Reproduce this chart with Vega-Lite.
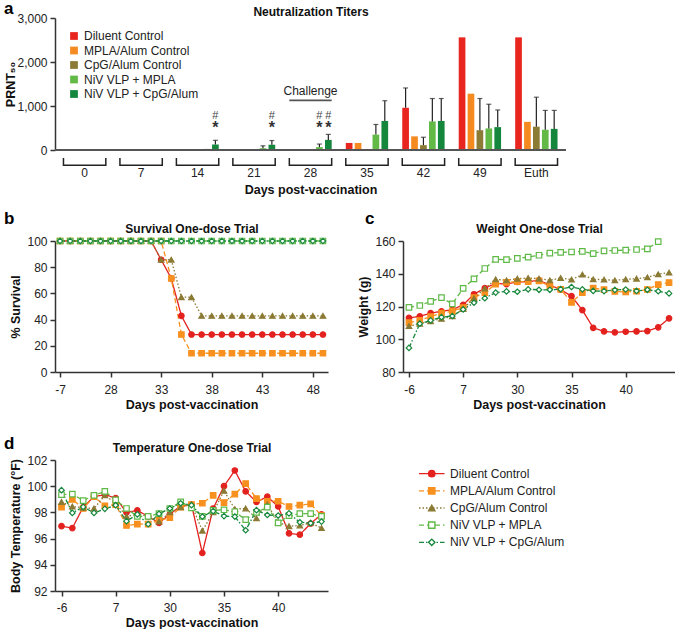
{
  "$schema": "https://vega.github.io/schema/vega-lite/v6.json",
  "padding": {"left": 3, "top": 0, "right": 0, "bottom": 0},
  "config": {
    "font": "Liberation Sans",
    "view": {"stroke": null},
    "axis": {"grid": false, "domainColor": "#333", "domainWidth": 1.5, "tickColor": "#333", "tickWidth": 1.5, "tickSize": 5, "labelFontSize": 12, "labelColor": "#222", "titleFontSize": 12.5, "titleFontWeight": "bold", "titleColor": "#111", "labelPadding": 3, "labelOverlap": false},
    "title": {"color": "#000"}
  },
  "datasets": {
    "titers": [
      {"day": "0", "series": "Diluent Control", "value": 0},
      {"day": "0", "series": "MPLA/Alum Control", "value": 0},
      {"day": "0", "series": "CpG/Alum Control", "value": 0},
      {"day": "0", "series": "NiV VLP + MPLA", "value": 0},
      {"day": "0", "series": "NiV VLP + CpG/Alum", "value": 0},
      {"day": "7", "series": "Diluent Control", "value": 0},
      {"day": "7", "series": "MPLA/Alum Control", "value": 0},
      {"day": "7", "series": "CpG/Alum Control", "value": 0},
      {"day": "7", "series": "NiV VLP + MPLA", "value": 0},
      {"day": "7", "series": "NiV VLP + CpG/Alum", "value": 8},
      {"day": "14", "series": "Diluent Control", "value": 0},
      {"day": "14", "series": "MPLA/Alum Control", "value": 0},
      {"day": "14", "series": "CpG/Alum Control", "value": 0},
      {"day": "14", "series": "NiV VLP + MPLA", "value": 25},
      {"day": "14", "series": "NiV VLP + CpG/Alum", "value": 125, "upper": 220, "sig": true},
      {"day": "21", "series": "Diluent Control", "value": 0},
      {"day": "21", "series": "MPLA/Alum Control", "value": 0},
      {"day": "21", "series": "CpG/Alum Control", "value": 0},
      {"day": "21", "series": "NiV VLP + MPLA", "value": 40, "upper": 95},
      {"day": "21", "series": "NiV VLP + CpG/Alum", "value": 120, "upper": 215, "sig": true},
      {"day": "28", "series": "Diluent Control", "value": 0},
      {"day": "28", "series": "MPLA/Alum Control", "value": 0},
      {"day": "28", "series": "CpG/Alum Control", "value": 0},
      {"day": "28", "series": "NiV VLP + MPLA", "value": 65, "upper": 135, "sig": true},
      {"day": "28", "series": "NiV VLP + CpG/Alum", "value": 230, "upper": 355, "sig": true},
      {"day": "35", "series": "Diluent Control", "value": 160},
      {"day": "35", "series": "MPLA/Alum Control", "value": 160},
      {"day": "35", "series": "CpG/Alum Control", "value": 20},
      {"day": "35", "series": "NiV VLP + MPLA", "value": 350, "upper": 580},
      {"day": "35", "series": "NiV VLP + CpG/Alum", "value": 660, "upper": 1120},
      {"day": "42", "series": "Diluent Control", "value": 960, "upper": 1410},
      {"day": "42", "series": "MPLA/Alum Control", "value": 310},
      {"day": "42", "series": "CpG/Alum Control", "value": 110, "upper": 290},
      {"day": "42", "series": "NiV VLP + MPLA", "value": 650, "upper": 1170},
      {"day": "42", "series": "NiV VLP + CpG/Alum", "value": 660, "upper": 1170},
      {"day": "49", "series": "Diluent Control", "value": 2560},
      {"day": "49", "series": "MPLA/Alum Control", "value": 1280},
      {"day": "49", "series": "CpG/Alum Control", "value": 450, "upper": 1170},
      {"day": "49", "series": "NiV VLP + MPLA", "value": 490, "upper": 1040},
      {"day": "49", "series": "NiV VLP + CpG/Alum", "value": 520, "upper": 910},
      {"day": "Euth", "series": "Diluent Control", "value": 2560},
      {"day": "Euth", "series": "MPLA/Alum Control", "value": 640},
      {"day": "Euth", "series": "CpG/Alum Control", "value": 530, "upper": 1200},
      {"day": "Euth", "series": "NiV VLP + MPLA", "value": 460, "upper": 900},
      {"day": "Euth", "series": "NiV VLP + CpG/Alum", "value": 480, "upper": 900}
    ],
    "days": [
      {"day": "0"}, {"day": "7"}, {"day": "14"}, {"day": "21"}, {"day": "28"}, {"day": "35"}, {"day": "42"}, {"day": "49"}, {"day": "Euth"}
    ],
    "notes": [
      {"day": "28", "label": "Challenge"}
    ],
    "survival": [
      {"series": "Diluent Control", "day": "-7", "value": 100},
      {"series": "Diluent Control", "day": "0", "value": 100},
      {"series": "Diluent Control", "day": "7", "value": 100},
      {"series": "Diluent Control", "day": "14", "value": 100},
      {"series": "Diluent Control", "day": "21", "value": 100},
      {"series": "Diluent Control", "day": "28", "value": 100},
      {"series": "Diluent Control", "day": "29", "value": 100},
      {"series": "Diluent Control", "day": "30", "value": 100},
      {"series": "Diluent Control", "day": "31", "value": 100},
      {"series": "Diluent Control", "day": "32", "value": 100},
      {"series": "Diluent Control", "day": "33", "value": 85.7},
      {"series": "Diluent Control", "day": "34", "value": 71.4},
      {"series": "Diluent Control", "day": "35", "value": 42.9},
      {"series": "Diluent Control", "day": "36", "value": 28.6},
      {"series": "Diluent Control", "day": "37", "value": 28.6},
      {"series": "Diluent Control", "day": "38", "value": 28.6},
      {"series": "Diluent Control", "day": "39", "value": 28.6},
      {"series": "Diluent Control", "day": "40", "value": 28.6},
      {"series": "Diluent Control", "day": "41", "value": 28.6},
      {"series": "Diluent Control", "day": "42", "value": 28.6},
      {"series": "Diluent Control", "day": "43", "value": 28.6},
      {"series": "Diluent Control", "day": "44", "value": 28.6},
      {"series": "Diluent Control", "day": "45", "value": 28.6},
      {"series": "Diluent Control", "day": "46", "value": 28.6},
      {"series": "Diluent Control", "day": "47", "value": 28.6},
      {"series": "Diluent Control", "day": "48", "value": 28.6},
      {"series": "Diluent Control", "day": "49", "value": 28.6},
      {"series": "MPLA/Alum Control", "day": "-7", "value": 100},
      {"series": "MPLA/Alum Control", "day": "0", "value": 100},
      {"series": "MPLA/Alum Control", "day": "7", "value": 100},
      {"series": "MPLA/Alum Control", "day": "14", "value": 100},
      {"series": "MPLA/Alum Control", "day": "21", "value": 100},
      {"series": "MPLA/Alum Control", "day": "28", "value": 100},
      {"series": "MPLA/Alum Control", "day": "29", "value": 100},
      {"series": "MPLA/Alum Control", "day": "30", "value": 100},
      {"series": "MPLA/Alum Control", "day": "31", "value": 100},
      {"series": "MPLA/Alum Control", "day": "32", "value": 100},
      {"series": "MPLA/Alum Control", "day": "33", "value": 100},
      {"series": "MPLA/Alum Control", "day": "34", "value": 71.4},
      {"series": "MPLA/Alum Control", "day": "35", "value": 28.6},
      {"series": "MPLA/Alum Control", "day": "36", "value": 14.3},
      {"series": "MPLA/Alum Control", "day": "37", "value": 14.3},
      {"series": "MPLA/Alum Control", "day": "38", "value": 14.3},
      {"series": "MPLA/Alum Control", "day": "39", "value": 14.3},
      {"series": "MPLA/Alum Control", "day": "40", "value": 14.3},
      {"series": "MPLA/Alum Control", "day": "41", "value": 14.3},
      {"series": "MPLA/Alum Control", "day": "42", "value": 14.3},
      {"series": "MPLA/Alum Control", "day": "43", "value": 14.3},
      {"series": "MPLA/Alum Control", "day": "44", "value": 14.3},
      {"series": "MPLA/Alum Control", "day": "45", "value": 14.3},
      {"series": "MPLA/Alum Control", "day": "46", "value": 14.3},
      {"series": "MPLA/Alum Control", "day": "47", "value": 14.3},
      {"series": "MPLA/Alum Control", "day": "48", "value": 14.3},
      {"series": "MPLA/Alum Control", "day": "49", "value": 14.3},
      {"series": "CpG/Alum Control", "day": "-7", "value": 100},
      {"series": "CpG/Alum Control", "day": "0", "value": 100},
      {"series": "CpG/Alum Control", "day": "7", "value": 100},
      {"series": "CpG/Alum Control", "day": "14", "value": 100},
      {"series": "CpG/Alum Control", "day": "21", "value": 100},
      {"series": "CpG/Alum Control", "day": "28", "value": 100},
      {"series": "CpG/Alum Control", "day": "29", "value": 100},
      {"series": "CpG/Alum Control", "day": "30", "value": 100},
      {"series": "CpG/Alum Control", "day": "31", "value": 100},
      {"series": "CpG/Alum Control", "day": "32", "value": 100},
      {"series": "CpG/Alum Control", "day": "33", "value": 85.7},
      {"series": "CpG/Alum Control", "day": "34", "value": 85.7},
      {"series": "CpG/Alum Control", "day": "35", "value": 57.1},
      {"series": "CpG/Alum Control", "day": "36", "value": 57.1},
      {"series": "CpG/Alum Control", "day": "37", "value": 42.9},
      {"series": "CpG/Alum Control", "day": "38", "value": 42.9},
      {"series": "CpG/Alum Control", "day": "39", "value": 42.9},
      {"series": "CpG/Alum Control", "day": "40", "value": 42.9},
      {"series": "CpG/Alum Control", "day": "41", "value": 42.9},
      {"series": "CpG/Alum Control", "day": "42", "value": 42.9},
      {"series": "CpG/Alum Control", "day": "43", "value": 42.9},
      {"series": "CpG/Alum Control", "day": "44", "value": 42.9},
      {"series": "CpG/Alum Control", "day": "45", "value": 42.9},
      {"series": "CpG/Alum Control", "day": "46", "value": 42.9},
      {"series": "CpG/Alum Control", "day": "47", "value": 42.9},
      {"series": "CpG/Alum Control", "day": "48", "value": 42.9},
      {"series": "CpG/Alum Control", "day": "49", "value": 42.9},
      {"series": "NiV VLP + MPLA", "day": "-7", "value": 100},
      {"series": "NiV VLP + MPLA", "day": "0", "value": 100},
      {"series": "NiV VLP + MPLA", "day": "7", "value": 100},
      {"series": "NiV VLP + MPLA", "day": "14", "value": 100},
      {"series": "NiV VLP + MPLA", "day": "21", "value": 100},
      {"series": "NiV VLP + MPLA", "day": "28", "value": 100},
      {"series": "NiV VLP + MPLA", "day": "29", "value": 100},
      {"series": "NiV VLP + MPLA", "day": "30", "value": 100},
      {"series": "NiV VLP + MPLA", "day": "31", "value": 100},
      {"series": "NiV VLP + MPLA", "day": "32", "value": 100},
      {"series": "NiV VLP + MPLA", "day": "33", "value": 100},
      {"series": "NiV VLP + MPLA", "day": "34", "value": 100},
      {"series": "NiV VLP + MPLA", "day": "35", "value": 100},
      {"series": "NiV VLP + MPLA", "day": "36", "value": 100},
      {"series": "NiV VLP + MPLA", "day": "37", "value": 100},
      {"series": "NiV VLP + MPLA", "day": "38", "value": 100},
      {"series": "NiV VLP + MPLA", "day": "39", "value": 100},
      {"series": "NiV VLP + MPLA", "day": "40", "value": 100},
      {"series": "NiV VLP + MPLA", "day": "41", "value": 100},
      {"series": "NiV VLP + MPLA", "day": "42", "value": 100},
      {"series": "NiV VLP + MPLA", "day": "43", "value": 100},
      {"series": "NiV VLP + MPLA", "day": "44", "value": 100},
      {"series": "NiV VLP + MPLA", "day": "45", "value": 100},
      {"series": "NiV VLP + MPLA", "day": "46", "value": 100},
      {"series": "NiV VLP + MPLA", "day": "47", "value": 100},
      {"series": "NiV VLP + MPLA", "day": "48", "value": 100},
      {"series": "NiV VLP + MPLA", "day": "49", "value": 100},
      {"series": "NiV VLP + CpG/Alum", "day": "-7", "value": 100},
      {"series": "NiV VLP + CpG/Alum", "day": "0", "value": 100},
      {"series": "NiV VLP + CpG/Alum", "day": "7", "value": 100},
      {"series": "NiV VLP + CpG/Alum", "day": "14", "value": 100},
      {"series": "NiV VLP + CpG/Alum", "day": "21", "value": 100},
      {"series": "NiV VLP + CpG/Alum", "day": "28", "value": 100},
      {"series": "NiV VLP + CpG/Alum", "day": "29", "value": 100},
      {"series": "NiV VLP + CpG/Alum", "day": "30", "value": 100},
      {"series": "NiV VLP + CpG/Alum", "day": "31", "value": 100},
      {"series": "NiV VLP + CpG/Alum", "day": "32", "value": 100},
      {"series": "NiV VLP + CpG/Alum", "day": "33", "value": 100},
      {"series": "NiV VLP + CpG/Alum", "day": "34", "value": 100},
      {"series": "NiV VLP + CpG/Alum", "day": "35", "value": 100},
      {"series": "NiV VLP + CpG/Alum", "day": "36", "value": 100},
      {"series": "NiV VLP + CpG/Alum", "day": "37", "value": 100},
      {"series": "NiV VLP + CpG/Alum", "day": "38", "value": 100},
      {"series": "NiV VLP + CpG/Alum", "day": "39", "value": 100},
      {"series": "NiV VLP + CpG/Alum", "day": "40", "value": 100},
      {"series": "NiV VLP + CpG/Alum", "day": "41", "value": 100},
      {"series": "NiV VLP + CpG/Alum", "day": "42", "value": 100},
      {"series": "NiV VLP + CpG/Alum", "day": "43", "value": 100},
      {"series": "NiV VLP + CpG/Alum", "day": "44", "value": 100},
      {"series": "NiV VLP + CpG/Alum", "day": "45", "value": 100},
      {"series": "NiV VLP + CpG/Alum", "day": "46", "value": 100},
      {"series": "NiV VLP + CpG/Alum", "day": "47", "value": 100},
      {"series": "NiV VLP + CpG/Alum", "day": "48", "value": 100},
      {"series": "NiV VLP + CpG/Alum", "day": "49", "value": 100}
    ],
    "weight": [
      {"series": "Diluent Control", "day": "-6", "value": 113},
      {"series": "Diluent Control", "day": "-4", "value": 114},
      {"series": "Diluent Control", "day": "-2", "value": 115.9},
      {"series": "Diluent Control", "day": "0", "value": 117.1},
      {"series": "Diluent Control", "day": "3", "value": 118},
      {"series": "Diluent Control", "day": "7", "value": 121},
      {"series": "Diluent Control", "day": "10", "value": 127.5},
      {"series": "Diluent Control", "day": "14", "value": 131.2},
      {"series": "Diluent Control", "day": "21", "value": 134.1},
      {"series": "Diluent Control", "day": "28", "value": 133.7},
      {"series": "Diluent Control", "day": "30", "value": 135},
      {"series": "Diluent Control", "day": "31", "value": 135.2},
      {"series": "Diluent Control", "day": "32", "value": 136},
      {"series": "Diluent Control", "day": "33", "value": 133.1},
      {"series": "Diluent Control", "day": "34", "value": 130.3},
      {"series": "Diluent Control", "day": "35", "value": 126.3},
      {"series": "Diluent Control", "day": "36", "value": 117.8},
      {"series": "Diluent Control", "day": "37", "value": 107},
      {"series": "Diluent Control", "day": "38", "value": 104.8},
      {"series": "Diluent Control", "day": "39", "value": 104.2},
      {"series": "Diluent Control", "day": "40", "value": 104.6},
      {"series": "Diluent Control", "day": "41", "value": 104.8},
      {"series": "Diluent Control", "day": "42", "value": 105},
      {"series": "Diluent Control", "day": "43", "value": 107.3},
      {"series": "Diluent Control", "day": "44", "value": 112.8},
      {"series": "MPLA/Alum Control", "day": "-6", "value": 110.2},
      {"series": "MPLA/Alum Control", "day": "-4", "value": 111.6},
      {"series": "MPLA/Alum Control", "day": "-2", "value": 113.8},
      {"series": "MPLA/Alum Control", "day": "0", "value": 115.9},
      {"series": "MPLA/Alum Control", "day": "3", "value": 117.2},
      {"series": "MPLA/Alum Control", "day": "7", "value": 119.4},
      {"series": "MPLA/Alum Control", "day": "10", "value": 125.5},
      {"series": "MPLA/Alum Control", "day": "14", "value": 128.5},
      {"series": "MPLA/Alum Control", "day": "21", "value": 133.7},
      {"series": "MPLA/Alum Control", "day": "28", "value": 134.7},
      {"series": "MPLA/Alum Control", "day": "30", "value": 135.2},
      {"series": "MPLA/Alum Control", "day": "31", "value": 135.2},
      {"series": "MPLA/Alum Control", "day": "32", "value": 135.6},
      {"series": "MPLA/Alum Control", "day": "33", "value": 132.5},
      {"series": "MPLA/Alum Control", "day": "34", "value": 130.5},
      {"series": "MPLA/Alum Control", "day": "35", "value": 122.5},
      {"series": "MPLA/Alum Control", "day": "36", "value": 128.4},
      {"series": "MPLA/Alum Control", "day": "37", "value": 131.2},
      {"series": "MPLA/Alum Control", "day": "38", "value": 130.3},
      {"series": "MPLA/Alum Control", "day": "39", "value": 129.2},
      {"series": "MPLA/Alum Control", "day": "40", "value": 128.9},
      {"series": "MPLA/Alum Control", "day": "41", "value": 129.3},
      {"series": "MPLA/Alum Control", "day": "42", "value": 130.4},
      {"series": "MPLA/Alum Control", "day": "43", "value": 133.4},
      {"series": "MPLA/Alum Control", "day": "44", "value": 134.6},
      {"series": "CpG/Alum Control", "day": "-6", "value": 108},
      {"series": "CpG/Alum Control", "day": "-4", "value": 109.5},
      {"series": "CpG/Alum Control", "day": "-2", "value": 111},
      {"series": "CpG/Alum Control", "day": "0", "value": 112.5},
      {"series": "CpG/Alum Control", "day": "3", "value": 114},
      {"series": "CpG/Alum Control", "day": "7", "value": 118.5},
      {"series": "CpG/Alum Control", "day": "10", "value": 125},
      {"series": "CpG/Alum Control", "day": "14", "value": 131},
      {"series": "CpG/Alum Control", "day": "21", "value": 136.6},
      {"series": "CpG/Alum Control", "day": "28", "value": 136},
      {"series": "CpG/Alum Control", "day": "30", "value": 137},
      {"series": "CpG/Alum Control", "day": "31", "value": 137.4},
      {"series": "CpG/Alum Control", "day": "32", "value": 137},
      {"series": "CpG/Alum Control", "day": "33", "value": 136},
      {"series": "CpG/Alum Control", "day": "34", "value": 137.4},
      {"series": "CpG/Alum Control", "day": "35", "value": 136.4},
      {"series": "CpG/Alum Control", "day": "36", "value": 139.5},
      {"series": "CpG/Alum Control", "day": "37", "value": 136.6},
      {"series": "CpG/Alum Control", "day": "38", "value": 136.4},
      {"series": "CpG/Alum Control", "day": "39", "value": 136},
      {"series": "CpG/Alum Control", "day": "40", "value": 136.6},
      {"series": "CpG/Alum Control", "day": "41", "value": 137},
      {"series": "CpG/Alum Control", "day": "42", "value": 137.8},
      {"series": "CpG/Alum Control", "day": "43", "value": 139.7},
      {"series": "CpG/Alum Control", "day": "44", "value": 140.7},
      {"series": "NiV VLP + MPLA", "day": "-6", "value": 119.5},
      {"series": "NiV VLP + MPLA", "day": "-4", "value": 120.6},
      {"series": "NiV VLP + MPLA", "day": "-2", "value": 123.1},
      {"series": "NiV VLP + MPLA", "day": "0", "value": 125.4},
      {"series": "NiV VLP + MPLA", "day": "3", "value": 121.6},
      {"series": "NiV VLP + MPLA", "day": "7", "value": 131.1},
      {"series": "NiV VLP + MPLA", "day": "10", "value": 136.9},
      {"series": "NiV VLP + MPLA", "day": "14", "value": 143.2},
      {"series": "NiV VLP + MPLA", "day": "21", "value": 148.8},
      {"series": "NiV VLP + MPLA", "day": "28", "value": 148.6},
      {"series": "NiV VLP + MPLA", "day": "30", "value": 149.4},
      {"series": "NiV VLP + MPLA", "day": "31", "value": 150.2},
      {"series": "NiV VLP + MPLA", "day": "32", "value": 151.3},
      {"series": "NiV VLP + MPLA", "day": "33", "value": 152.6},
      {"series": "NiV VLP + MPLA", "day": "34", "value": 153},
      {"series": "NiV VLP + MPLA", "day": "35", "value": 153.3},
      {"series": "NiV VLP + MPLA", "day": "36", "value": 153.7},
      {"series": "NiV VLP + MPLA", "day": "37", "value": 152.3},
      {"series": "NiV VLP + MPLA", "day": "38", "value": 154},
      {"series": "NiV VLP + MPLA", "day": "39", "value": 154.2},
      {"series": "NiV VLP + MPLA", "day": "40", "value": 154.4},
      {"series": "NiV VLP + MPLA", "day": "41", "value": 154.8},
      {"series": "NiV VLP + MPLA", "day": "42", "value": 155.2},
      {"series": "NiV VLP + MPLA", "day": "43", "value": 159.6},
      {"series": "NiV VLP + CpG/Alum", "day": "-6", "value": 94.7},
      {"series": "NiV VLP + CpG/Alum", "day": "-4", "value": 109.5},
      {"series": "NiV VLP + CpG/Alum", "day": "-2", "value": 111.5},
      {"series": "NiV VLP + CpG/Alum", "day": "0", "value": 113.5},
      {"series": "NiV VLP + CpG/Alum", "day": "3", "value": 114.2},
      {"series": "NiV VLP + CpG/Alum", "day": "7", "value": 118.2},
      {"series": "NiV VLP + CpG/Alum", "day": "10", "value": 122.3},
      {"series": "NiV VLP + CpG/Alum", "day": "14", "value": 125.1},
      {"series": "NiV VLP + CpG/Alum", "day": "21", "value": 128.5},
      {"series": "NiV VLP + CpG/Alum", "day": "28", "value": 129.2},
      {"series": "NiV VLP + CpG/Alum", "day": "30", "value": 129},
      {"series": "NiV VLP + CpG/Alum", "day": "31", "value": 130.5},
      {"series": "NiV VLP + CpG/Alum", "day": "32", "value": 130.2},
      {"series": "NiV VLP + CpG/Alum", "day": "33", "value": 130.2},
      {"series": "NiV VLP + CpG/Alum", "day": "34", "value": 130.6},
      {"series": "NiV VLP + CpG/Alum", "day": "35", "value": 131.9},
      {"series": "NiV VLP + CpG/Alum", "day": "36", "value": 130.5},
      {"series": "NiV VLP + CpG/Alum", "day": "37", "value": 129.5},
      {"series": "NiV VLP + CpG/Alum", "day": "38", "value": 129.4},
      {"series": "NiV VLP + CpG/Alum", "day": "39", "value": 130.1},
      {"series": "NiV VLP + CpG/Alum", "day": "40", "value": 130.4},
      {"series": "NiV VLP + CpG/Alum", "day": "41", "value": 129.5},
      {"series": "NiV VLP + CpG/Alum", "day": "42", "value": 130.2},
      {"series": "NiV VLP + CpG/Alum", "day": "43", "value": 129.3},
      {"series": "NiV VLP + CpG/Alum", "day": "44", "value": 128}
    ],
    "temp": [
      {"series": "Diluent Control", "day": "-6", "value": 96.95},
      {"series": "Diluent Control", "day": "-4", "value": 96.8},
      {"series": "Diluent Control", "day": "-2", "value": 98.4},
      {"series": "Diluent Control", "day": "0", "value": 99.2},
      {"series": "Diluent Control", "day": "3", "value": 99.35},
      {"series": "Diluent Control", "day": "7", "value": 99.1},
      {"series": "Diluent Control", "day": "10", "value": 98.0},
      {"series": "Diluent Control", "day": "14", "value": 98.15},
      {"series": "Diluent Control", "day": "21", "value": 97.7},
      {"series": "Diluent Control", "day": "28", "value": 97.2},
      {"series": "Diluent Control", "day": "30", "value": 97.85},
      {"series": "Diluent Control", "day": "31", "value": 98.5},
      {"series": "Diluent Control", "day": "32", "value": 98.6},
      {"series": "Diluent Control", "day": "33", "value": 94.9},
      {"series": "Diluent Control", "day": "34", "value": 98.3},
      {"series": "Diluent Control", "day": "35", "value": 100.0},
      {"series": "Diluent Control", "day": "36", "value": 101.2},
      {"series": "Diluent Control", "day": "37", "value": 99.6},
      {"series": "Diluent Control", "day": "38", "value": 98.8},
      {"series": "Diluent Control", "day": "39", "value": 99.2},
      {"series": "Diluent Control", "day": "40", "value": 98.45},
      {"series": "Diluent Control", "day": "41", "value": 96.4},
      {"series": "Diluent Control", "day": "42", "value": 96.3},
      {"series": "Diluent Control", "day": "43", "value": 97.15},
      {"series": "Diluent Control", "day": "44", "value": 97.85},
      {"series": "MPLA/Alum Control", "day": "-6", "value": 98.4},
      {"series": "MPLA/Alum Control", "day": "-4", "value": 99.0},
      {"series": "MPLA/Alum Control", "day": "-2", "value": 98.3},
      {"series": "MPLA/Alum Control", "day": "0", "value": 99.2},
      {"series": "MPLA/Alum Control", "day": "3", "value": 98.5},
      {"series": "MPLA/Alum Control", "day": "7", "value": 98.6},
      {"series": "MPLA/Alum Control", "day": "10", "value": 97.0},
      {"series": "MPLA/Alum Control", "day": "14", "value": 97.1},
      {"series": "MPLA/Alum Control", "day": "21", "value": 97.1},
      {"series": "MPLA/Alum Control", "day": "28", "value": 97.4},
      {"series": "MPLA/Alum Control", "day": "30", "value": 97.6},
      {"series": "MPLA/Alum Control", "day": "31", "value": 98.4},
      {"series": "MPLA/Alum Control", "day": "32", "value": 98.6},
      {"series": "MPLA/Alum Control", "day": "33", "value": 98.7},
      {"series": "MPLA/Alum Control", "day": "34", "value": 99.3},
      {"series": "MPLA/Alum Control", "day": "35", "value": 98.75},
      {"series": "MPLA/Alum Control", "day": "36", "value": 99.4},
      {"series": "MPLA/Alum Control", "day": "37", "value": 100.2},
      {"series": "MPLA/Alum Control", "day": "38", "value": 99.05},
      {"series": "MPLA/Alum Control", "day": "39", "value": 98.85},
      {"series": "MPLA/Alum Control", "day": "40", "value": 98.85},
      {"series": "MPLA/Alum Control", "day": "41", "value": 98.45},
      {"series": "MPLA/Alum Control", "day": "42", "value": 98.55},
      {"series": "MPLA/Alum Control", "day": "43", "value": 98.65},
      {"series": "MPLA/Alum Control", "day": "44", "value": 97.75},
      {"series": "CpG/Alum Control", "day": "-6", "value": 98.8},
      {"series": "CpG/Alum Control", "day": "-4", "value": 98.45},
      {"series": "CpG/Alum Control", "day": "-2", "value": 98.35},
      {"series": "CpG/Alum Control", "day": "0", "value": 98.3},
      {"series": "CpG/Alum Control", "day": "3", "value": 99.3},
      {"series": "CpG/Alum Control", "day": "7", "value": 98.7},
      {"series": "CpG/Alum Control", "day": "10", "value": 97.7},
      {"series": "CpG/Alum Control", "day": "14", "value": 97.85},
      {"series": "CpG/Alum Control", "day": "21", "value": 97.7},
      {"series": "CpG/Alum Control", "day": "28", "value": 97.3},
      {"series": "CpG/Alum Control", "day": "30", "value": 98.0},
      {"series": "CpG/Alum Control", "day": "31", "value": 98.4},
      {"series": "CpG/Alum Control", "day": "32", "value": 98.6},
      {"series": "CpG/Alum Control", "day": "33", "value": 96.6},
      {"series": "CpG/Alum Control", "day": "34", "value": 98.0},
      {"series": "CpG/Alum Control", "day": "35", "value": 99.65},
      {"series": "CpG/Alum Control", "day": "36", "value": 98.25},
      {"series": "CpG/Alum Control", "day": "37", "value": 98.3},
      {"series": "CpG/Alum Control", "day": "38", "value": 97.55},
      {"series": "CpG/Alum Control", "day": "39", "value": 98.6},
      {"series": "CpG/Alum Control", "day": "40", "value": 97.25},
      {"series": "CpG/Alum Control", "day": "41", "value": 96.95},
      {"series": "CpG/Alum Control", "day": "42", "value": 97.0},
      {"series": "CpG/Alum Control", "day": "43", "value": 97.2},
      {"series": "CpG/Alum Control", "day": "44", "value": 96.8},
      {"series": "NiV VLP + MPLA", "day": "-6", "value": 99.35},
      {"series": "NiV VLP + MPLA", "day": "-4", "value": 99.4},
      {"series": "NiV VLP + MPLA", "day": "-2", "value": 98.9},
      {"series": "NiV VLP + MPLA", "day": "0", "value": 99.3},
      {"series": "NiV VLP + MPLA", "day": "3", "value": 99.6},
      {"series": "NiV VLP + MPLA", "day": "7", "value": 98.95},
      {"series": "NiV VLP + MPLA", "day": "10", "value": 98.3},
      {"series": "NiV VLP + MPLA", "day": "14", "value": 97.7},
      {"series": "NiV VLP + MPLA", "day": "21", "value": 97.7},
      {"series": "NiV VLP + MPLA", "day": "28", "value": 97.9},
      {"series": "NiV VLP + MPLA", "day": "30", "value": 98.3},
      {"series": "NiV VLP + MPLA", "day": "31", "value": 98.8},
      {"series": "NiV VLP + MPLA", "day": "32", "value": 98.35},
      {"series": "NiV VLP + MPLA", "day": "33", "value": 97.7},
      {"series": "NiV VLP + MPLA", "day": "34", "value": 98.15},
      {"series": "NiV VLP + MPLA", "day": "35", "value": 98.2},
      {"series": "NiV VLP + MPLA", "day": "36", "value": 98.05},
      {"series": "NiV VLP + MPLA", "day": "37", "value": 97.45},
      {"series": "NiV VLP + MPLA", "day": "38", "value": 98.0},
      {"series": "NiV VLP + MPLA", "day": "39", "value": 98.4},
      {"series": "NiV VLP + MPLA", "day": "40", "value": 97.2},
      {"series": "NiV VLP + MPLA", "day": "41", "value": 97.75},
      {"series": "NiV VLP + MPLA", "day": "42", "value": 97.9},
      {"series": "NiV VLP + MPLA", "day": "43", "value": 97.9},
      {"series": "NiV VLP + MPLA", "day": "44", "value": 97.7},
      {"series": "NiV VLP + CpG/Alum", "day": "-6", "value": 99.7},
      {"series": "NiV VLP + CpG/Alum", "day": "-4", "value": 97.96},
      {"series": "NiV VLP + CpG/Alum", "day": "-2", "value": 98.42},
      {"series": "NiV VLP + CpG/Alum", "day": "0", "value": 97.96},
      {"series": "NiV VLP + CpG/Alum", "day": "3", "value": 98.27},
      {"series": "NiV VLP + CpG/Alum", "day": "7", "value": 98.55},
      {"series": "NiV VLP + CpG/Alum", "day": "10", "value": 97.33},
      {"series": "NiV VLP + CpG/Alum", "day": "14", "value": 97.85},
      {"series": "NiV VLP + CpG/Alum", "day": "21", "value": 97.1},
      {"series": "NiV VLP + CpG/Alum", "day": "28", "value": 97.89},
      {"series": "NiV VLP + CpG/Alum", "day": "30", "value": 98.3},
      {"series": "NiV VLP + CpG/Alum", "day": "31", "value": 98.7},
      {"series": "NiV VLP + CpG/Alum", "day": "32", "value": 98.55},
      {"series": "NiV VLP + CpG/Alum", "day": "33", "value": 97.68},
      {"series": "NiV VLP + CpG/Alum", "day": "34", "value": 98.1},
      {"series": "NiV VLP + CpG/Alum", "day": "35", "value": 97.72},
      {"series": "NiV VLP + CpG/Alum", "day": "36", "value": 97.68},
      {"series": "NiV VLP + CpG/Alum", "day": "37", "value": 96.64},
      {"series": "NiV VLP + CpG/Alum", "day": "38", "value": 98.17},
      {"series": "NiV VLP + CpG/Alum", "day": "39", "value": 97.8},
      {"series": "NiV VLP + CpG/Alum", "day": "40", "value": 97.76},
      {"series": "NiV VLP + CpG/Alum", "day": "41", "value": 97.93},
      {"series": "NiV VLP + CpG/Alum", "day": "42", "value": 97.25},
      {"series": "NiV VLP + CpG/Alum", "day": "43", "value": 97.18},
      {"series": "NiV VLP + CpG/Alum", "day": "44", "value": 97.3}
    ],
    "groups": [
      {"series": "Diluent Control"},
      {"series": "MPLA/Alum Control"},
      {"series": "CpG/Alum Control"},
      {"series": "NiV VLP + MPLA"},
      {"series": "NiV VLP + CpG/Alum"}
    ]
  },
  "resolve": {
    "scale": {"color": "independent", "shape": "independent", "fill": "independent", "stroke": "independent", "strokeDash": "independent"},
    "legend": {"color": "independent", "shape": "independent", "fill": "independent", "stroke": "independent", "strokeDash": "independent"}
  },
  "columns": 1,
  "align": "none",
  "spacing": 14,
  "concat": [
    {
      "title": {"text": "a", "anchor": "start", "frame": "bounds", "fontSize": 17, "fontWeight": "bold", "offset": -13},
      "spacing": 2,
      "vconcat": [
        {
          "width": 511,
          "height": 132,
          "data": {"name": "titers"},
          "layer": [
            {
              "mark": {"type": "bar"},
              "encoding": {
                "x": {"field": "day", "type": "nominal", "scale": {"domain": ["0", "7", "14", "21", "28", "35", "42", "49", "Euth"], "paddingInner": 0.25, "paddingOuter": 0.15}, "axis": {"orient": "top", "title": "Neutralization Titers", "labels": false, "ticks": false, "domain": false, "titlePadding": 0, "titleFontSize": 12}},
                "xOffset": {"field": "series", "type": "nominal", "scale": {"domain": ["Diluent Control", "MPLA/Alum Control", "CpG/Alum Control", "NiV VLP + MPLA", "NiV VLP + CpG/Alum"], "paddingInner": 0.25}},
                "y": {"field": "value", "type": "quantitative", "title": "PRNT₅₀", "scale": {"domain": [0, 3000], "nice": false}, "axis": {"values": [0, 1000, 2000, 3000], "tickCount": 10, "format": ",.0f", "titlePadding": 5, "minExtent": 33, "maxExtent": 33}},
                "color": {"field": "series", "type": "nominal", "scale": {"domain": ["Diluent Control", "MPLA/Alum Control", "CpG/Alum Control", "NiV VLP + MPLA", "NiV VLP + CpG/Alum"], "range": ["#e8251f", "#f58a20", "#8b7b35", "#62b946", "#14873d"]}, "legend": {"orient": "none", "legendX": 13, "legendY": 12, "title": null, "symbolType": "square", "symbolSize": 60, "labelFontSize": 12, "labelColor": "#222", "rowPadding": 2.5, "labelOffset": 4}}
              }
            },
            {
              "transform": [{"filter": "isValid(datum.upper)"}],
              "mark": {"type": "rule", "color": "#222", "strokeWidth": 1.2},
              "encoding": {
                "x": {"field": "day", "type": "nominal", "axis": {"orient": "top", "title": "Neutralization Titers", "labels": false, "ticks": false, "domain": false, "titlePadding": 0, "titleFontSize": 12}},
                "xOffset": {"field": "series", "type": "nominal"},
                "y": {"field": "value", "type": "quantitative", "title": "PRNT₅₀"},
                "y2": {"field": "upper"}
              }
            },
            {
              "transform": [{"filter": "isValid(datum.upper)"}],
              "mark": {"type": "tick", "color": "#222", "thickness": 1.2, "size": 5, "orient": "horizontal"},
              "encoding": {
                "x": {"field": "day", "type": "nominal", "axis": {"orient": "top", "title": "Neutralization Titers", "labels": false, "ticks": false, "domain": false, "titlePadding": 0, "titleFontSize": 12}},
                "xOffset": {"field": "series", "type": "nominal"},
                "y": {"field": "upper", "type": "quantitative", "title": "PRNT₅₀"}
              }
            },
            {
              "transform": [{"filter": "datum.sig === true"}],
              "mark": {"type": "text", "text": "*", "fontSize": 16, "fontWeight": "bold", "color": "#333", "baseline": "middle"},
              "encoding": {
                "x": {"field": "day", "type": "nominal", "axis": {"orient": "top", "title": "Neutralization Titers", "labels": false, "ticks": false, "domain": false, "titlePadding": 0, "titleFontSize": 12}},
                "xOffset": {"field": "series", "type": "nominal"},
                "y": {"datum": 500, "type": "quantitative", "title": "PRNT₅₀"}
              }
            },
            {
              "transform": [{"filter": "datum.sig === true"}],
              "mark": {"type": "text", "text": "#", "fontSize": 11, "color": "#444", "baseline": "middle"},
              "encoding": {
                "x": {"field": "day", "type": "nominal", "axis": {"orient": "top", "title": "Neutralization Titers", "labels": false, "ticks": false, "domain": false, "titlePadding": 0, "titleFontSize": 12}},
                "xOffset": {"field": "series", "type": "nominal"},
                "y": {"datum": 770, "type": "quantitative", "title": "PRNT₅₀"}
              }
            },
            {
              "data": {"name": "notes"},
              "mark": {"type": "rule", "color": "#555", "strokeWidth": 2},
              "encoding": {"y": {"datum": 0, "type": "quantitative", "title": "PRNT₅₀"}}
            },
            {
              "data": {"name": "notes"},
              "mark": {"type": "text", "fontSize": 12, "color": "#222", "baseline": "middle"},
              "encoding": {
                "x": {"field": "day", "type": "nominal", "axis": {"orient": "top", "title": "Neutralization Titers", "labels": false, "ticks": false, "domain": false, "titlePadding": 0, "titleFontSize": 12}},
                "y": {"datum": 1330, "type": "quantitative", "title": "PRNT₅₀"},
                "text": {"field": "label"}
              }
            },
            {
              "data": {"name": "notes"},
              "mark": {"type": "bar", "color": "#555"},
              "encoding": {
                "x": {"field": "day", "type": "nominal", "axis": {"orient": "top", "title": "Neutralization Titers", "labels": false, "ticks": false, "domain": false, "titlePadding": 0, "titleFontSize": 12}},
                "y": {"datum": 1110, "type": "quantitative", "title": "PRNT₅₀"},
                "y2": {"datum": 1150}
              }
            }
          ]
        },
        {
          "width": 511,
          "height": 8,
          "data": {"name": "days"},
          "mark": {"type": "bar", "filled": false, "color": "#222", "strokeWidth": 1.5, "clip": true},
          "encoding": {
            "x": {"field": "day", "type": "nominal", "scale": {"domain": ["0", "7", "14", "21", "28", "35", "42", "49", "Euth"], "paddingInner": 0.25, "paddingOuter": 0.15}, "axis": {"title": "Days post-vaccination", "domain": false, "ticks": false, "labelPadding": 1, "labelAngle": 0, "titlePadding": 5}},
            "y": {"datum": 0.1, "type": "quantitative", "scale": {"domain": [0, 1]}, "axis": null},
            "y2": {"datum": 2}
          }
        }
      ]
    },
    {
      "columns": 1,
      "align": "none",
      "spacing": 24,
      "concat": [
        {
          "spacing": 28,
          "hconcat": [
            {
              "title": {"text": "b", "anchor": "start", "frame": "bounds", "fontSize": 17, "fontWeight": "bold", "offset": -6, "dx": -5},
              "width": 273,
              "height": 131,
              "data": {"name": "survival"},
              "layer": [
                {
                  "mark": {"type": "line", "strokeWidth": 1.3},
                  "encoding": {
                    "x": {"field": "day", "type": "ordinal", "scale": {"type": "point", "padding": 0.5, "domain": ["-7", "0", "7", "14", "21", "28", "29", "30", "31", "32", "33", "34", "35", "36", "37", "38", "39", "40", "41", "42", "43", "44", "45", "46", "47", "48", "49"]}, "axis": {"orient": "bottom", "values": ["-7", "28", "33", "38", "43", "48"], "labelAngle": 0, "labelPadding": 7, "title": "Days post-vaccination", "titlePadding": 3}},
                    "y": {"field": "value", "type": "quantitative", "title": "% Survival", "scale": {"domain": [0, 100], "nice": false}, "axis": {"values": [0, 20, 40, 60, 80, 100], "tickCount": 10, "titlePadding": 5, "minExtent": 28, "maxExtent": 28}},
                    "stroke": {"field": "series", "type": "nominal", "scale": {"domain": ["Diluent Control", "MPLA/Alum Control", "CpG/Alum Control", "NiV VLP + MPLA", "NiV VLP + CpG/Alum"], "range": ["#e3221f", "#f7901e", "#8a7a34", "#5fb946", "#16873c"]}, "legend": null},
                    "strokeDash": {"field": "series", "type": "nominal", "scale": {"domain": ["Diluent Control", "MPLA/Alum Control", "CpG/Alum Control", "NiV VLP + MPLA", "NiV VLP + CpG/Alum"], "range": [[1, 0], [5, 3], [1.5, 2], [5, 3], [5, 2, 1.5, 2]]}, "legend": null},
                    "order": {"value": null}
                  }
                },
                {
                  "mark": {"type": "point", "size": 30, "strokeWidth": 1.2, "opacity": 1},
                  "encoding": {
                    "x": {"field": "day", "type": "ordinal", "axis": {"orient": "top", "title": "Survival One-dose Trial", "labels": false, "ticks": false, "domain": false, "titlePadding": 6, "titleFontSize": 12}},
                    "y": {"field": "value", "type": "quantitative", "title": "% Survival"},
                    "stroke": {"field": "series", "type": "nominal", "legend": null},
                    "fill": {"field": "series", "type": "nominal", "scale": {"domain": ["Diluent Control", "MPLA/Alum Control", "CpG/Alum Control", "NiV VLP + MPLA", "NiV VLP + CpG/Alum"], "range": ["#e3221f", "#f7901e", "#8a7a34", "#ffffff", "#ffffff"]}, "legend": null},
                    "shape": {"field": "series", "type": "nominal", "scale": {"domain": ["Diluent Control", "MPLA/Alum Control", "CpG/Alum Control", "NiV VLP + MPLA", "NiV VLP + CpG/Alum"], "range": ["circle", "square", "triangle-up", "square", "diamond"]}, "legend": null}
                  }
                }
              ],
              "resolve": {"axis": {"x": "independent"}}
            },
            {
              "title": {"text": "c", "anchor": "start", "frame": "bounds", "fontSize": 17, "fontWeight": "bold", "offset": -6, "dx": 8},
              "width": 272,
              "height": 131,
              "data": {"name": "weight"},
              "layer": [
                {
                  "mark": {"type": "line", "strokeWidth": 1.3},
                  "encoding": {
                    "x": {"field": "day", "type": "ordinal", "scale": {"type": "point", "padding": 0.55, "domain": ["-6", "-4", "-2", "0", "3", "7", "10", "14", "21", "28", "30", "31", "32", "33", "34", "35", "36", "37", "38", "39", "40", "41", "42", "43", "44"]}, "axis": {"orient": "bottom", "values": ["-6", "7", "30", "35", "40"], "labelAngle": 0, "labelPadding": 7, "title": "Days post-vaccination", "titlePadding": 3}},
                    "y": {"field": "value", "type": "quantitative", "title": "Weight (g)", "scale": {"domain": [80, 160], "nice": false}, "axis": {"values": [80, 100, 120, 140, 160], "tickCount": 10, "titlePadding": 5, "minExtent": 28, "maxExtent": 28}},
                    "stroke": {"field": "series", "type": "nominal", "scale": {"domain": ["Diluent Control", "MPLA/Alum Control", "CpG/Alum Control", "NiV VLP + MPLA", "NiV VLP + CpG/Alum"], "range": ["#e3221f", "#f7901e", "#8a7a34", "#5fb946", "#16873c"]}, "legend": null},
                    "strokeDash": {"field": "series", "type": "nominal", "scale": {"domain": ["Diluent Control", "MPLA/Alum Control", "CpG/Alum Control", "NiV VLP + MPLA", "NiV VLP + CpG/Alum"], "range": [[1, 0], [5, 3], [1.5, 2], [5, 3], [5, 2, 1.5, 2]]}, "legend": null},
                    "order": {"value": null}
                  }
                },
                {
                  "mark": {"type": "point", "size": 30, "strokeWidth": 1.2, "opacity": 1},
                  "encoding": {
                    "x": {"field": "day", "type": "ordinal", "axis": {"orient": "top", "title": "Weight One-dose Trial", "labels": false, "ticks": false, "domain": false, "titlePadding": 6, "titleFontSize": 12}},
                    "y": {"field": "value", "type": "quantitative", "title": "Weight (g)"},
                    "stroke": {"field": "series", "type": "nominal", "legend": null},
                    "fill": {"field": "series", "type": "nominal", "scale": {"domain": ["Diluent Control", "MPLA/Alum Control", "CpG/Alum Control", "NiV VLP + MPLA", "NiV VLP + CpG/Alum"], "range": ["#e3221f", "#f7901e", "#8a7a34", "#ffffff", "#ffffff"]}, "legend": null},
                    "shape": {"field": "series", "type": "nominal", "scale": {"domain": ["Diluent Control", "MPLA/Alum Control", "CpG/Alum Control", "NiV VLP + MPLA", "NiV VLP + CpG/Alum"], "range": ["circle", "square", "triangle-up", "square", "diamond"]}, "legend": null}
                  }
                }
              ],
              "resolve": {"axis": {"x": "independent"}}
            }
          ]
        },
        {
          "spacing": 90,
          "hconcat": [
            {
              "title": {"text": "d", "anchor": "start", "frame": "bounds", "fontSize": 17, "fontWeight": "bold", "offset": -12, "dx": -5},
              "width": 273,
              "height": 131,
              "data": {"name": "temp"},
              "layer": [
                {
                  "mark": {"type": "line", "strokeWidth": 1.3},
                  "encoding": {
                    "x": {"field": "day", "type": "ordinal", "scale": {"type": "point", "padding": 0.6, "domain": ["-6", "-4", "-2", "0", "3", "7", "10", "14", "21", "28", "30", "31", "32", "33", "34", "35", "36", "37", "38", "39", "40", "41", "42", "43", "44"]}, "axis": {"orient": "bottom", "values": ["-6", "7", "30", "35", "40"], "labelAngle": 0, "labelPadding": 6, "title": "Days post-vaccination", "titlePadding": 3}},
                    "y": {"field": "value", "type": "quantitative", "title": "Body Temperature (°F)", "scale": {"domain": [92, 102], "nice": false}, "axis": {"values": [92, 94, 96, 98, 100, 102], "tickCount": 10, "titlePadding": 5, "minExtent": 28, "maxExtent": 28}},
                    "stroke": {"field": "series", "type": "nominal", "scale": {"domain": ["Diluent Control", "MPLA/Alum Control", "CpG/Alum Control", "NiV VLP + MPLA", "NiV VLP + CpG/Alum"], "range": ["#e3221f", "#f7901e", "#8a7a34", "#5fb946", "#16873c"]}, "legend": null},
                    "strokeDash": {"field": "series", "type": "nominal", "scale": {"domain": ["Diluent Control", "MPLA/Alum Control", "CpG/Alum Control", "NiV VLP + MPLA", "NiV VLP + CpG/Alum"], "range": [[1, 0], [5, 3], [1.5, 2], [5, 3], [5, 2, 1.5, 2]]}, "legend": null},
                    "order": {"value": null}
                  }
                },
                {
                  "mark": {"type": "point", "size": 30, "strokeWidth": 1.2, "opacity": 1},
                  "encoding": {
                    "x": {"field": "day", "type": "ordinal", "axis": {"orient": "top", "title": "Temperature One-dose Trial", "labels": false, "ticks": false, "domain": false, "titlePadding": 6, "titleFontSize": 12}},
                    "y": {"field": "value", "type": "quantitative", "title": "Body Temperature (°F)"},
                    "stroke": {"field": "series", "type": "nominal", "legend": null},
                    "fill": {"field": "series", "type": "nominal", "scale": {"domain": ["Diluent Control", "MPLA/Alum Control", "CpG/Alum Control", "NiV VLP + MPLA", "NiV VLP + CpG/Alum"], "range": ["#e3221f", "#f7901e", "#8a7a34", "#ffffff", "#ffffff"]}, "legend": null},
                    "shape": {"field": "series", "type": "nominal", "scale": {"domain": ["Diluent Control", "MPLA/Alum Control", "CpG/Alum Control", "NiV VLP + MPLA", "NiV VLP + CpG/Alum"], "range": ["circle", "square", "triangle-up", "square", "diamond"]}, "legend": null}
                  }
                }
              ],
              "resolve": {"axis": {"x": "independent"}}
            },
            {
              "width": 150,
              "height": 96,
              "data": {"name": "groups"},
              "layer": [
                {
                  "mark": {"type": "rule", "strokeWidth": 1.3},
                  "encoding": {
                    "x": {"datum": 0, "type": "quantitative", "scale": {"domain": [0, 10]}, "axis": null},
                    "x2": {"datum": 1.7},
                    "y": {"field": "series", "type": "nominal", "scale": {"type": "point", "padding": 0.8, "domain": ["Diluent Control", "MPLA/Alum Control", "CpG/Alum Control", "NiV VLP + MPLA", "NiV VLP + CpG/Alum"]}, "axis": null},
                    "stroke": {"field": "series", "type": "nominal", "scale": {"domain": ["Diluent Control", "MPLA/Alum Control", "CpG/Alum Control", "NiV VLP + MPLA", "NiV VLP + CpG/Alum"], "range": ["#e3221f", "#f7901e", "#8a7a34", "#5fb946", "#16873c"]}, "legend": null},
                    "strokeDash": {"field": "series", "type": "nominal", "scale": {"domain": ["Diluent Control", "MPLA/Alum Control", "CpG/Alum Control", "NiV VLP + MPLA", "NiV VLP + CpG/Alum"], "range": [[1, 0], [4, 2], [1.5, 2], [4, 2], [4, 2, 1.5, 2]]}, "legend": null}
                  }
                },
                {
                  "mark": {"type": "point", "size": 40, "strokeWidth": 1.4, "opacity": 1},
                  "encoding": {
                    "x": {"datum": 0.85, "type": "quantitative"},
                    "y": {"field": "series", "type": "nominal"},
                    "stroke": {"field": "series", "type": "nominal", "legend": null},
                    "fill": {"field": "series", "type": "nominal", "scale": {"domain": ["Diluent Control", "MPLA/Alum Control", "CpG/Alum Control", "NiV VLP + MPLA", "NiV VLP + CpG/Alum"], "range": ["#e3221f", "#f7901e", "#8a7a34", "#ffffff", "#ffffff"]}, "legend": null},
                    "shape": {"field": "series", "type": "nominal", "scale": {"domain": ["Diluent Control", "MPLA/Alum Control", "CpG/Alum Control", "NiV VLP + MPLA", "NiV VLP + CpG/Alum"], "range": ["circle", "square", "triangle-up", "square", "diamond"]}, "legend": null}
                  }
                },
                {
                  "mark": {"type": "text", "align": "left", "baseline": "middle", "fontSize": 12, "color": "#222"},
                  "encoding": {
                    "x": {"datum": 2.07, "type": "quantitative"},
                    "y": {"field": "series", "type": "nominal"},
                    "text": {"field": "series"}
                  }
                }
              ]
            }
          ]
        }
      ]
    }
  ]
}
